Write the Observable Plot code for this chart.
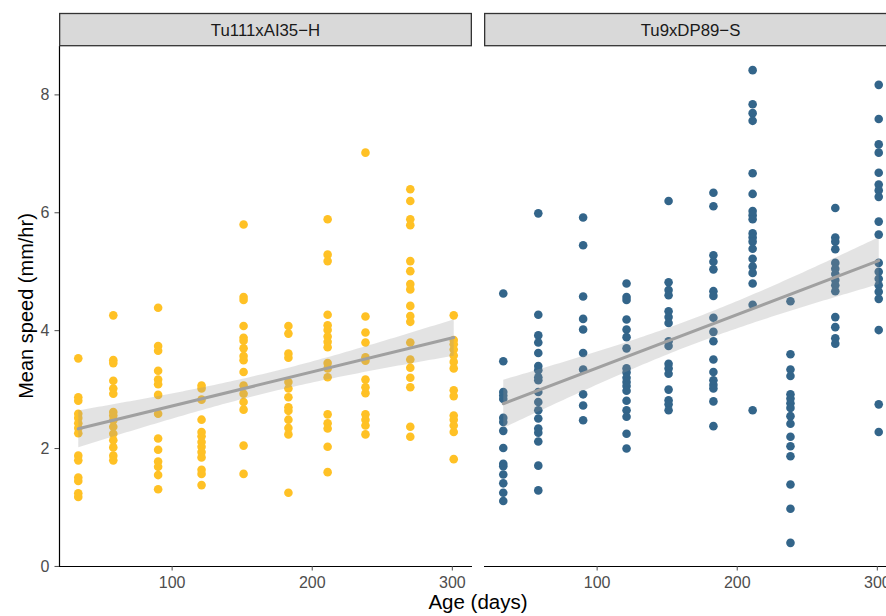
<!DOCTYPE html>
<html>
<head>
<meta charset="utf-8">
<script src="https://cdn.jsdelivr.net/npm/d3@7"></script>
<script src="https://cdn.jsdelivr.net/npm/@observablehq/plot@0.6"></script>
<style>
  html, body { margin: 0; padding: 0; background: white; overflow: hidden; }
  #chart { width: 886px; height: 616px; overflow: hidden; }
  #chart svg { max-width: none !important; height: 616px !important; }
</style>
</head>
<body>
<div id="chart"></div>
<script>
// ---- data ----
const ages = [33, 58, 90, 121, 151, 183, 211, 238, 270, 301];
const strains = ["Tu111xAI35−H", "Tu9xDP89−S"];
const strainColors = ["#FFC125", "#33658A"];
const xTicks = [100, 200, 300];
const yTicks = [0, 2, 4, 6, 8];
const xTitle = "Age (days)";
const yTitle = "Mean speed (mm/hr)";

// mean speed per age (one inner list per age), strain Tu111xAI35-H
const speedH = [
  [3.53, 2.87, 2.81, 2.59, 2.52, 2.43, 2.35, 2.26, 1.88, 1.80, 1.51, 1.45, 1.24, 1.18],
  [4.26, 3.50, 3.45, 3.15, 3.02, 2.93, 2.62, 2.56, 2.48, 2.37, 2.25, 2.14, 2.02, 1.88, 1.80],
  [4.39, 3.74, 3.66, 3.32, 3.17, 3.09, 2.91, 2.59, 2.17, 1.98, 1.78, 1.69, 1.55, 1.31],
  [3.07, 3.02, 2.83, 2.49, 2.28, 2.21, 2.11, 2.03, 1.94, 1.85, 1.64, 1.57, 1.38],
  [5.80, 4.57, 4.52, 4.08, 3.88, 3.83, 3.70, 3.57, 3.50, 3.30, 3.07, 2.93, 2.79, 2.66, 2.05, 1.57],
  [4.08, 3.95, 3.61, 3.54, 3.13, 3.02, 2.87, 2.70, 2.64, 2.49, 2.35, 2.24, 1.25],
  [5.89, 5.29, 5.18, 4.27, 4.09, 4.01, 3.90, 3.81, 3.72, 3.45, 3.36, 3.21, 2.58, 2.43, 2.34, 2.03, 1.60],
  [7.02, 4.24, 3.97, 3.80, 3.55, 3.49, 3.17, 3.04, 2.94, 2.58, 2.49, 2.39, 2.24],
  [6.40, 6.20, 5.89, 5.79, 5.18, 5.01, 4.79, 4.70, 4.42, 4.25, 4.15, 3.80, 3.51, 3.37, 3.20, 3.04, 2.37, 2.20],
  [4.26, 3.84, 3.77, 3.68, 3.58, 3.47, 3.36, 2.99, 2.89, 2.56, 2.49, 2.39, 2.28, 1.82]
];
// strain Tu9xDP89-S
const speedS = [
  [4.63, 3.48, 2.96, 2.90, 2.84, 2.52, 2.45, 2.30, 2.01, 1.74, 1.70, 1.56, 1.41, 1.25, 1.11],
  [5.99, 4.27, 3.92, 3.80, 3.62, 3.40, 3.33, 3.21, 3.16, 2.96, 2.79, 2.65, 2.51, 2.34, 2.27, 2.12, 1.71, 1.29],
  [5.92, 5.45, 4.58, 4.20, 4.02, 3.62, 3.34, 2.92, 2.73, 2.48],
  [4.80, 4.57, 4.52, 4.19, 4.02, 3.89, 3.70, 3.36, 3.29, 3.20, 3.13, 3.06, 2.98, 2.81, 2.65, 2.54, 2.25, 2.00],
  [6.20, 4.82, 4.69, 4.60, 4.33, 4.23, 4.13, 3.82, 3.74, 3.44, 3.36, 3.27, 3.00, 2.82, 2.75, 2.65],
  [6.34, 6.11, 5.28, 5.17, 5.04, 4.67, 4.59, 4.22, 3.98, 3.82, 3.51, 3.30, 3.16, 3.08, 3.02, 2.80, 2.38],
  [8.42, 7.84, 7.69, 7.56, 6.67, 6.32, 6.03, 5.96, 5.89, 5.65, 5.58, 5.51, 5.39, 5.22, 5.09, 4.98, 4.80, 4.44, 2.65],
  [4.50, 3.60, 3.34, 3.23, 2.92, 2.85, 2.77, 2.69, 2.55, 2.42, 2.20, 2.04, 1.87, 1.39, 0.98, 0.40],
  [6.08, 5.58, 5.51, 5.38, 5.15, 5.05, 4.96, 4.86, 4.77, 4.67, 4.23, 4.06, 3.87, 3.78],
  [8.17, 7.59, 7.16, 7.02, 6.68, 6.48, 6.38, 6.27, 5.85, 5.63, 5.15, 5.00, 4.88, 4.77, 4.66, 4.54, 4.01, 2.75, 2.28]
];

// ---- table for Plot ----
const bySpeed = [speedH, speedS];
const rows = strains.flatMap((s, si) =>
  bySpeed[si].flatMap((vals, ai) => vals.map(v => ({strain: s, age: ages[ai], speed: v}))));

// ggplot-like 5% expansion of the data range
function expand(ext) { const p = (ext[1] - ext[0]) * 0.05; return [ext[0] - p, ext[1] + p]; }
const xDomain = expand(d3.extent(rows, d => d.age));
const yDomain = expand(d3.extent(rows, d => d.speed));

const FONT = "'Liberation Sans', Arial, Helvetica, sans-serif";

const plot = Plot.plot({
  width: 898,
  height: 616,
  marginLeft: 59,
  marginRight: 1,
  marginTop: 46,
  marginBottom: 50,
  style: {fontFamily: FONT, background: "white", overflow: "visible", maxWidth: "none"},
  fx: {domain: strains, paddingInner: 0.02824, paddingOuter: 0, round: false, axis: null, label: null},
  x: {domain: xDomain, axis: null, label: null},
  y: {domain: yDomain, axis: null, label: null},
  color: {type: "ordinal", domain: strains, range: strainColors},
  marks: [
    Plot.dot(rows, {x: "age", y: "speed", fx: "strain", fill: "strain", r: 4.3}),
    Plot.linearRegressionY(rows, {
      x: "age", y: "speed", fx: "strain",
      stroke: "#A0A0A0", strokeWidth: 3, fill: "#999999", fillOpacity: 0.27
    }),
    Plot.ruleY([yDomain[0]], {stroke: "black", strokeWidth: 1.2}),
    Plot.ruleX([{strain: strains[0], x: xDomain[0]}], {x: "x", fx: "strain", stroke: "black", strokeWidth: 1.2}),
    Plot.axisY({ticks: yTicks, tickSize: 4.5, tickPadding: 5.5, fontSize: 16, color: "#4D4D4D", label: null}),
    Plot.axisX({ticks: xTicks, tickSize: 4.5, tickPadding: 6, fontSize: 16, color: "#4D4D4D", label: null})
  ]
});

plot.style.maxWidth = "none";
plot.style.width = "898px";
plot.style.height = "616px";
document.getElementById("chart").appendChild(plot);

// ---- facet strips and axis titles, placed with Plot's own scales ----
const svg = d3.select(plot);
const fx = plot.scale("fx");
const bw = fx.bandwidth;
const yr = plot.scale("y").range; // [bottom, top]
const strip = svg.append("g");
strains.forEach(s => {
  const x0 = fx.apply(s);
  strip.append("rect")
    .attr("x", x0 + 0.65).attr("y", 13.5)
    .attr("width", bw - 1.3).attr("height", yr[1] - 13.8)
    .attr("fill", "#D9D9D9").attr("stroke", "#333333").attr("stroke-width", 1.3);
  strip.append("text")
    .attr("x", x0 + bw / 2).attr("y", (13.5 + yr[1]) / 2)
    .attr("dy", "0.36em").attr("text-anchor", "middle")
    .attr("font-family", FONT).attr("font-size", 16.8).attr("fill", "#1A1A1A")
    .text(s);
});
const fr = fx.range;
svg.append("text")
  .attr("x", (fr[0] + fr[1]) / 2).attr("y", 609)
  .attr("text-anchor", "middle")
  .attr("font-family", FONT).attr("font-size", 20.5).attr("fill", "black")
  .text(xTitle);
svg.append("text")
  .attr("transform", `translate(33,${(yr[0] + yr[1]) / 2}) rotate(-90)`)
  .attr("text-anchor", "middle")
  .attr("font-family", FONT).attr("font-size", 20).attr("fill", "black")
  .text(yTitle);
</script>
</body>
</html>
